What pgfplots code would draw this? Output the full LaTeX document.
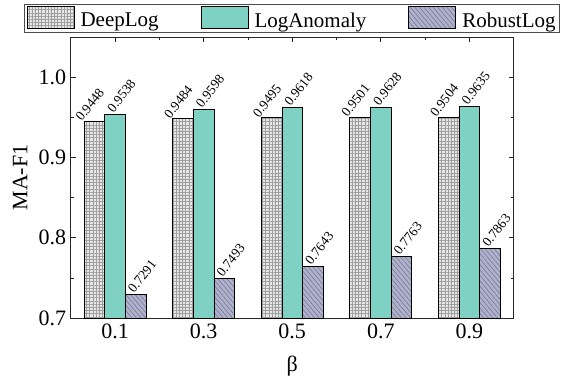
\documentclass[border=0pt]{standalone}
\usepackage{fontspec}
\setmainfont{Liberation Serif}
\usepackage{graphicx}
\usepackage{pgfplots}
\pgfplotsset{compat=1.18}
\usetikzlibrary{patterns.meta}

\definecolor{tealA}{RGB}{127,209,196}
\definecolor{lav}{RGB}{176,178,204}
\definecolor{lavdark}{RGB}{118,120,150}
\definecolor{dlgray}{RGB}{230,230,230}

\begin{document}
\begin{tikzpicture}
\begin{axis}[
  scale only axis, width=443pt, height=281pt,
  xmin=-0.5, xmax=4.5, ymin=0.7, ymax=1.05,
  ybar=0pt, bar width=0.233,
  xtick={0,1,2,3,4}, xticklabels={0.1,0.3,0.5,0.7,0.9},
  xtick pos=right, xticklabel pos=left,
  minor x tick num=1,
  ytick={0.7,0.8,0.9,1.0}, minor y tick num=1,
  yticklabel style={/pgf/number format/fixed,/pgf/number format/fixed zerofill,/pgf/number format/precision=1},
  /pgf/number format/assume math mode=true,
  tick align=inside,
  major tick length=5pt, minor tick length=3pt,
  axis line style={black!85, line width=0.8pt},
  every tick/.style={black!85, line width=0.7pt},
  tick label style={font=\fontsize{22}{24}\selectfont},
  xticklabel style={yshift=-2pt},
  yticklabel style={xshift=-1pt},
  every axis y label/.style={at={(axis description cs:0,0.5)}, anchor=center, xshift=-50.5pt, rotate=90, font=\fontsize{22}{24}\selectfont},
  every axis x label/.style={at={(axis description cs:0.5,0)}, anchor=center, yshift=-48pt, font=\fontsize{22}{24}\selectfont},
  ylabel={MA-F1}, xlabel={β},
  legend style={at={(0.5,1)}, anchor=south, yshift=4pt, legend columns=3,
    draw=black!70, line width=0.8pt, inner xsep=2pt, inner ysep=2pt,
    font=\fontsize{21}{23}\selectfont,
    /tikz/every odd column/.append style={column sep=4pt},
    /tikz/every even column/.append style={column sep=40pt}},
  legend cell align=left,
  legend image code/.code={\draw[#1, draw=black, line width=0.8pt] (0pt,-8pt) rectangle (47pt,14pt);},
  nodes near coords={\rotatebox{52}{\pgfplotspointmeta}},
  point meta=explicit symbolic,
  every node near coord/.append style={font=\fontsize{13.5}{15}\selectfont, anchor=south, inner sep=0pt, xshift=6.5pt, yshift=0.5pt},
]
\addplot[draw=black, line width=0.7pt, fill=dlgray,
  postaction={pattern={Hatch[angle=0,distance=3.2pt,line width=0.45pt]}, pattern color=black!38},
  every node near coord/.append style={xshift=-11pt, yshift=-1.5pt}]
  coordinates {(0,0.9448)[0.9448] (1,0.9484)[0.9484] (2,0.9495)[0.9495] (3,0.9501)[0.9501] (4,0.9504)[0.9504]};
\addplot[draw=black, line width=0.7pt, fill=tealA]
  coordinates {(0,0.9538)[0.9538] (1,0.9598)[0.9598] (2,0.9618)[0.9618] (3,0.9628)[0.9628] (4,0.9635)[0.9635]};
\addplot[draw=black, line width=0.7pt, fill=lav,
  postaction={pattern={Lines[angle=-50,distance=3.5pt,line width=0.6pt]}, pattern color=lavdark}]
  coordinates {(0,0.7291)[0.7291] (1,0.7493)[0.7493] (2,0.7643)[0.7643] (3,0.7763)[0.7763] (4,0.7863)[0.7863]};
\legend{DeepLog, LogAnomaly, RobustLog}
\end{axis}
\path (-70.7pt,-66pt) rectangle (490.3pt,318pt);
\end{tikzpicture}
\end{document}
